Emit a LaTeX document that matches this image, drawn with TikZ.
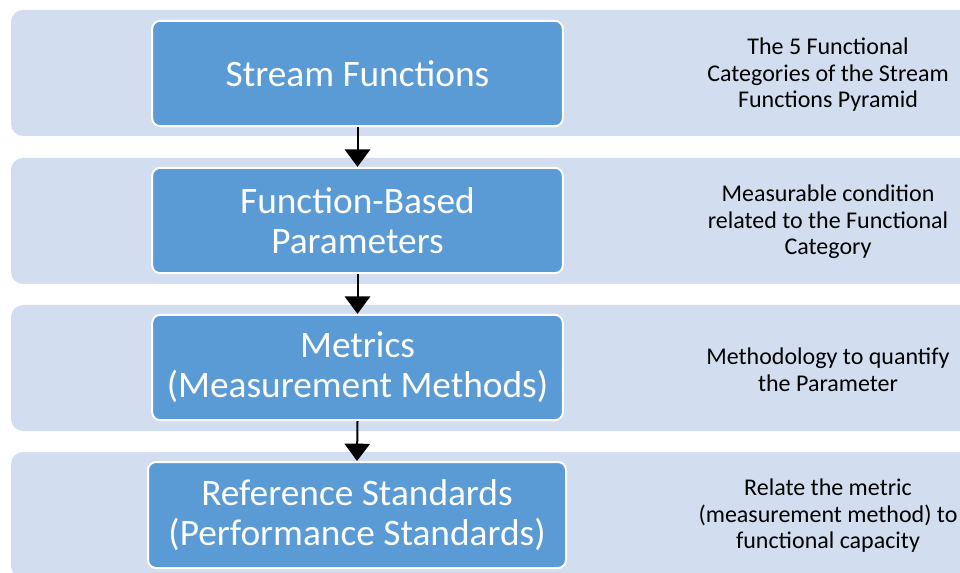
\documentclass[tikz,border=0pt]{standalone}
\usepackage{fontspec}
\setmainfont{Carlito}
\usetikzlibrary{shapes,arrows.meta,positioning}
\definecolor{bandblue}{HTML}{D2DEEF}
\definecolor{boxblue}{HTML}{5B9BD5}
\tikzstyle{bandblock}=[rectangle, rounded corners=9pt, fill=bandblue, minimum width=723pt, minimum height=94.5pt, inner sep=0pt]
\tikzstyle{blueblock}=[rectangle, rounded corners=6pt, draw=white, line width=1.5pt, fill=boxblue, text=white, align=center, minimum width=308pt, minimum height=79pt, font=\fontsize{28}{30}\selectfont]
\tikzstyle{notetext}=[align=center, font=\fontsize{18}{19.9}\selectfont]
\tikzstyle{downarrow}=[-{Triangle[length=13pt,width=19pt]}, line width=1.5pt]

\begin{document}
\begin{tikzpicture}[x=0.75pt, y=-0.75pt]
\useasboundingbox (0,0) rectangle (960,573);
\clip (0,0) rectangle (960,573);

% background bands
\node[bandblock] (bk1) at (493,73) {};
\node[bandblock] (bk2) at (493,221) {};
\node[bandblock] (bk3) at (493,368) {};
\node[bandblock] (bk4) at (493,515) {};

\node[blueblock] (p1) at (357.5,73.5) {Stream Functions};
\node[blueblock] (p2) at (357.5,220.5) {Function-Based\\Parameters};
\node[blueblock] (p3) at (357.5,367.5) {Metrics\\(Measurement Methods)};
\node[blueblock, minimum width=313.5pt, minimum height=79.5pt] (p4) at (357,515) {Reference Standards\\(Performance Standards)};

\node[notetext] (d1) at (828,75) {The 5 Functional\\Categories of the Stream\\Functions Pyramid};
\node[notetext] (d2) at (828,222) {Measurable condition\\related to the Functional\\Category};
\node[notetext] (d3) at (828,369.5) {Methodology to quantify\\the Parameter};
\node[notetext] (d4) at (828,516) {Relate the metric\\(measurement method) to\\functional capacity};

\draw[downarrow] (p1.south) -- (p2.north);
\draw[downarrow] (p2.south) -- (p3.north);
\draw[downarrow] (p3.south) -- (p4.north);

\end{tikzpicture}
\end{document}
